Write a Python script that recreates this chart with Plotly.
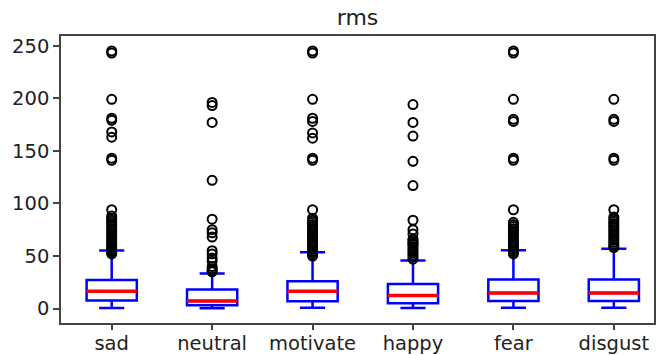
import plotly.graph_objects as go

categories = ["sad", "neutral", "motivate", "happy", "fear", "disgust"]
positions = [1, 2, 3, 4, 5, 6]

q1 = [7.6, 3.1, 7.0, 5.1, 7.3, 7.3]
median = [16.5, 7.2, 16.5, 12.4, 14.9, 14.9]
q3 = [27.3, 18.1, 26.0, 23.5, 27.6, 27.6]
lower_whisker = [0.6, 0.3, 0.8, 0.5, 0.8, 0.8]
upper_whisker = [55.3, 33.3, 53.6, 45.7, 55.5, 57.0]

outliers_sad = [245, 243, 199, 181, 179, 168, 163, 143, 141, 94,
                88, 86, 84, 82, 80, 78, 76, 74, 72, 70, 68, 66, 64, 62, 60, 58, 56.5, 55, 53.5, 52]
outliers_neutral = [196, 193, 177, 122, 85, 75, 72, 68, 55, 52, 48, 45, 40, 38, 36, 35]
outliers_motivate = [245, 243, 199, 181, 178, 167, 162, 143, 141, 94,
                     86, 84, 82, 80, 78, 76, 74, 72, 70, 68, 66, 64, 62, 60, 58, 56, 54, 52, 50]
outliers_happy = [194, 177, 164, 140, 117, 84, 75, 71, 66, 62,
                  65, 63, 61, 59, 57, 55, 53, 51, 49, 47]
outliers_fear = [245, 243, 199, 180, 178, 143, 141, 94,
                 82, 80, 78, 76, 74, 72, 70, 68, 66, 64, 62, 60, 58, 56, 54, 52]
outliers_disgust = [199, 180, 178, 143, 141, 94,
                    87, 85, 83, 81, 79, 77, 75, 73, 71, 69, 67, 65, 63, 61, 59, 58]
outliers = [outliers_sad, outliers_neutral, outliers_motivate,
            outliers_happy, outliers_fear, outliers_disgust]

box_width = 0.5

fig = go.Figure()

fig.add_trace(go.Box(
    x=positions, q1=q1, median=median, q3=q3,
    lowerfence=lower_whisker, upperfence=upper_whisker,
    boxpoints=False, width=box_width, whiskerwidth=0.5,
    line=dict(color="blue", width=2.5),
    fillcolor="rgba(0,0,0,0)", showlegend=False, hoverinfo="skip",
))

mx, my = [], []
for p, m in zip(positions, median):
    mx += [p - box_width / 2, p + box_width / 2, None]
    my += [m, m, None]
fig.add_trace(go.Scatter(
    x=mx, y=my, mode="lines",
    line=dict(color="red", width=3.5), showlegend=False, hoverinfo="skip",
))

ox, oy = [], []
for p, vals in zip(positions, outliers):
    ox += [p] * len(vals)
    oy += vals
fig.add_trace(go.Scatter(
    x=ox, y=oy, mode="markers",
    marker=dict(symbol="circle-open", size=9, color="black",
                line=dict(color="black", width=2)),
    showlegend=False, hoverinfo="skip",
))

fig.update_layout(
    width=657, height=355,
    margin=dict(l=61, r=3, t=36, b=32),
    paper_bgcolor="white", plot_bgcolor="white",
    font=dict(family="DejaVu Sans", size=19.5, color="#222"),
    title=dict(text="rms", x=0.5, xref="paper", xanchor="center",
               y=1 - 17 / 355, yref="container", yanchor="middle",
               font=dict(family="DejaVu Sans", size=22, color="#222")),
)
fig.update_xaxes(
    range=[0.495, 6.40], tickmode="array", tickvals=positions, ticktext=categories,
    showgrid=False, zeroline=False, showline=True, mirror=True, automargin=False,
    linecolor="#444", linewidth=1.5, ticks="outside", ticklen=5,
    tickcolor="#444", tickwidth=1.5, ticklabelstandoff=-3,
)
fig.update_yaxes(
    range=[-13.7, 259.2], tickmode="array", tickvals=[0, 50, 100, 150, 200, 250],
    showgrid=False, zeroline=False, showline=True, mirror=True, automargin=False,
    linecolor="#444", linewidth=1.5, ticks="outside", ticklen=6,
    tickcolor="#444", tickwidth=1.5,
)

fig.write_html(
    "out.html",
    config={"displayModeBar": False},
    post_script="document.body.style.margin='0';document.body.style.overflow='hidden';",
)
